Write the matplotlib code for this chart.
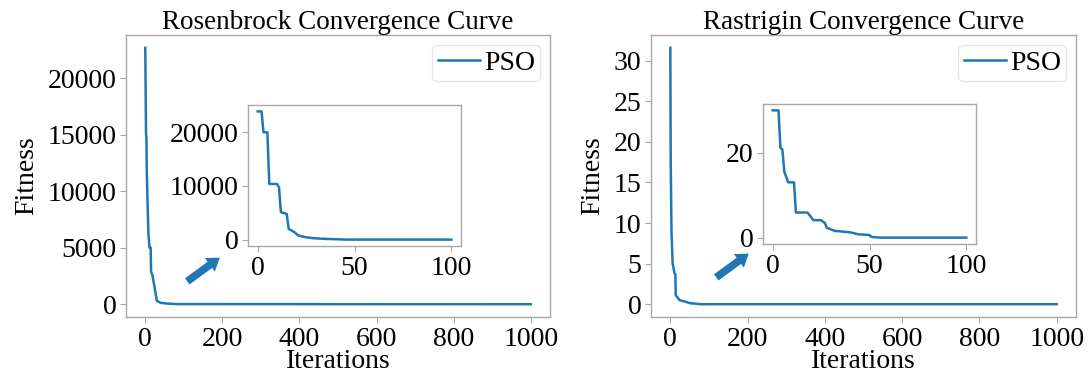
import matplotlib
matplotlib.use("Agg")
import matplotlib.pyplot as plt

# ---- data ----
ros_x = [0, 2, 3, 4, 8, 11, 14, 15, 19, 21, 25, 30, 40, 54, 83, 1000]
ros_y = [22700, 15000, 14800, 11600, 6300, 5000, 5000, 2900, 2500, 2100, 1300, 300, 120, 60, 5, 0]

ros_in_x = [0, 2, 3, 5, 6, 10, 11, 12, 15, 16, 17, 19, 21, 25, 29, 36, 46, 100]
ros_in_y = [23900, 23900, 20000, 20000, 10370, 10370, 9750, 5100, 4800, 2000, 1800, 1370, 750, 430, 250, 120, 0, 0]

ras_x = [0, 1, 3, 6, 11, 13, 14, 24, 52, 78, 1000]
ras_y = [31.6, 17.8, 9.1, 5.0, 3.8, 3.7, 1.1, 0.5, 0.12, 0.0, 0.0]

ras_in_x = [0, 3, 4, 5, 6, 8, 11, 12, 18, 19, 21, 25, 27, 28, 32, 40, 44, 50, 51, 56, 100]
ras_in_y = [29.9, 29.9, 21.1, 20.7, 15.5, 13.0, 13.0, 5.9, 5.9, 5.3, 4.1, 4.1, 3.4, 2.3, 1.6, 1.25, 0.8, 0.6, 0.15, 0.0, 0.0]

main_xticks = [0, 200, 400, 600, 800, 1000]
ros_yticks = [0, 5000, 10000, 15000, 20000]
ras_yticks = [0, 5, 10, 15, 20, 25, 30]
inset_xticks = [0, 50, 100]
ros_in_yticks = [0, 10000, 20000]
ras_in_yticks = [0, 20]

titles = ["Rosenbrock Convergence Curve", "Rastrigin Convergence Curve"]
label = "PSO"

# ---- style ----
plt.rcParams['font.family'] = ['Liberation Serif', 'DejaVu Serif']
FS = 20
C = '#1f77b4'
SPINE = '#a8a8a8'

fig = plt.figure(figsize=(10.89, 3.74), dpi=100)
W, H = 1089, 374

def px_axes(l, t, r, b):
    return fig.add_axes([l / W, (H - b) / H, (r - l) / W, (b - t) / H])

def style(ax):
    for s in ax.spines.values():
        s.set_color(SPINE)
        s.set_linewidth(1.0)
    ax.tick_params(colors=SPINE, labelcolor='black', labelsize=FS, length=4, width=0.8, pad=3)

ax1 = px_axes(126, 35, 550, 317)
ax2 = px_axes(651, 35, 1076, 317)
in1 = px_axes(248, 105, 461, 246)
in2 = px_axes(763, 104, 976, 244)

for ax, x, y, yt, title in [(ax1, ros_x, ros_y, ros_yticks, titles[0]),
                            (ax2, ras_x, ras_y, ras_yticks, titles[1])]:
    ax.plot(x, y, color=C, lw=1.8, label=label)
    ax.set_xticks(main_xticks)
    ax.set_yticks(yt)
    ax.set_title(title, fontsize=19.5, pad=3)
    ax.set_xlabel("Iterations", fontsize=FS, labelpad=-2)
    ax.set_ylabel("Fitness", fontsize=FS, labelpad=6)
    style(ax)
    leg = ax.legend(loc='upper right', fontsize=FS, handlelength=1.5,
                    handletextpad=0.15, borderpad=0.2, borderaxespad=0.35,
                    fancybox=True, framealpha=0.8)
    leg.get_frame().set_edgecolor('#e0e0e0')

for ax, x, y, yt in [(in1, ros_in_x, ros_in_y, ros_in_yticks),
                     (in2, ras_in_x, ras_in_y, ras_in_yticks)]:
    ax.plot(x, y, color=C, lw=1.8)
    ax.set_xticks(inset_xticks)
    ax.set_yticks(yt)
    style(ax)

# arrows pointing to the insets (positions in figure pixels)
for (x0, y0, x1, y1) in [(185, 283, 222, 256), (714, 279, 751, 252)]:
    fig.add_artist(matplotlib.patches.FancyArrowPatch(
        (x0, H - y0), (x1, H - y1), transform=None,
        arrowstyle='simple,head_width=1.1,head_length=0.8,tail_width=0.5',
        mutation_scale=11, color=C, lw=0))

fig.savefig("out.png", dpi=100)
